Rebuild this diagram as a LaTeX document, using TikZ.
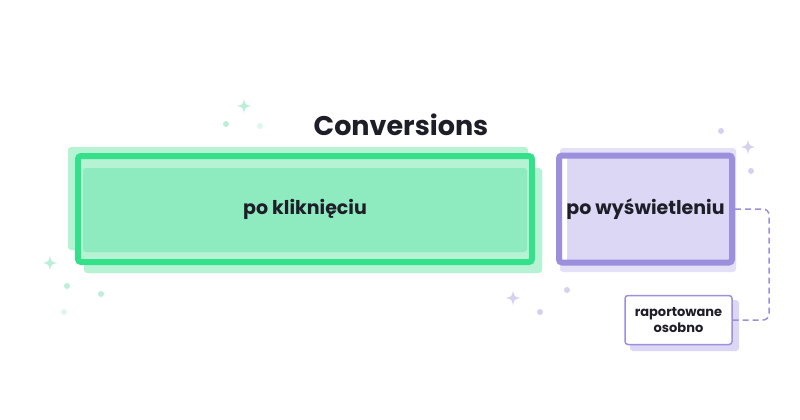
\documentclass[tikz,border=0pt]{standalone}
\usepackage{fontspec}
\setmainfont{Poppins}
\usetikzlibrary{calc,positioning}
\definecolor{mint}{HTML}{34E08A}
\definecolor{mintfill}{HTML}{8EEBBF}
\definecolor{mintpale}{HTML}{B6F3D5}
\definecolor{mintdot}{HTML}{BDEFD8}
\definecolor{lilac}{HTML}{9C8FDC}
\definecolor{lilacfill}{HTML}{DCD7F4}
\definecolor{lilacpale}{HTML}{E4E0F7}
\definecolor{lilacdot}{HTML}{D6D1F0}
\definecolor{ink}{HTML}{1E1E28}
\def\sparkle(#1)#2#3{\fill[#3] ($(#1)+(0,-#2)$)
  .. controls ($(#1)+(0.2*#2,-0.2*#2)$) .. ($(#1)+(#2,0)$)
  .. controls ($(#1)+(0.2*#2,0.2*#2)$) .. ($(#1)+(0,#2)$)
  .. controls ($(#1)+(-0.2*#2,0.2*#2)$) .. ($(#1)+(-#2,0)$)
  .. controls ($(#1)+(-0.2*#2,-0.2*#2)$) .. cycle;}
\tikzset{
  bigbox/.style={rectangle, rounded corners=3pt, line width=6pt, text=ink,
    font=\fontsize{19}{22}\selectfont\bfseries},
  notebox/.style={rectangle, rounded corners=3pt, line width=1.5pt, draw=lilac, fill=white,
    text=ink, align=center, font=\fontsize{13}{16}\selectfont\bfseries,
    minimum width=107pt, minimum height=49pt},
  link/.style={lilac, line width=1.5pt, dash pattern=on 6pt off 4pt, rounded corners=6pt}
}
\begin{document}
\begin{tikzpicture}[x=1pt,y=-1pt]
  \fill[white] (0,0) rectangle (800,420);
  \useasboundingbox (0,0) rectangle (800,420);

  % sparkles and dots
  \sparkle(244,106){7}{mintdot}
  \fill[mintdot] (226,124) circle (3);
  \fill[mintdot!50] (260,126) circle (3);
  \sparkle(50,263){7}{mintdot}
  \fill[mintdot] (67,286) circle (3);
  \fill[mintdot] (101,294) circle (3);
  \fill[mintdot!50] (64,312) circle (3);
  \fill[lilacdot] (721,131) circle (3);
  \sparkle(748,147){7}{lilacdot}
  \fill[lilacdot] (751,171) circle (3);
  \sparkle(513,298){7}{lilacdot}
  \fill[lilacdot] (567,290) circle (3);
  \fill[lilacdot] (540,312) circle (3);

  % shadows
  \fill[mintpale, rounded corners=3pt] (68,147) rectangle (528,250);
  \fill[mintpale, rounded corners=3pt] (84,168) rectangle (542,273);
  \fill[lilacpale, rounded corners=3pt] (560,148) rectangle (736,272);
  \fill[lilacfill, rounded corners=3pt] (630,300) rectangle (739,351);

  \node[font=\fontsize{27}{30}\selectfont\bfseries, text=ink] (title) at (401,125) {Conversions};

  \node[bigbox, draw=mint, fill=mintpale, minimum width=454pt, minimum height=106pt,
    path picture={\fill[mintfill] ($(path picture bounding box.north west)+(5,12)$)
      rectangle ($(path picture bounding box.south east)+(-5,-10)$);}]
    (click) at (305,209) {po kliknięciu};
  \node[bigbox, draw=lilac, fill=lilacfill, minimum width=173pt, minimum height=107pt,
    right=21pt of click,
    path picture={\fill[white] (path picture bounding box.north west)
      rectangle ($(path picture bounding box.south west)+(8,0)$);}]
    (view) {po wyświetleniu};

  \node[notebox] (note) at (678.5,320) {raportowane\\osobno};

  \draw[link] (view.east) -- ++(34,0) |- (note.east);
\end{tikzpicture}
\end{document}
